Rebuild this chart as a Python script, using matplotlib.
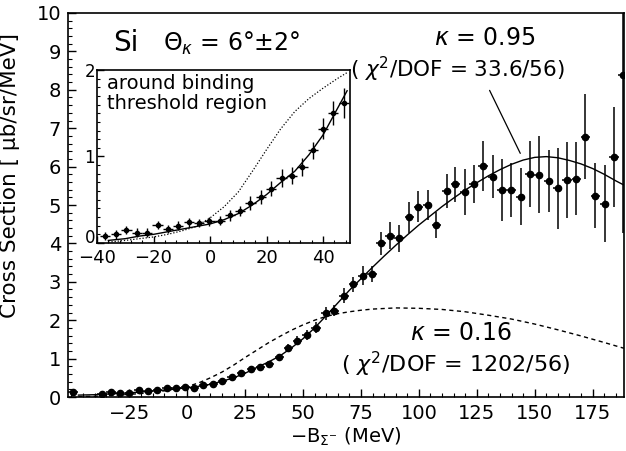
import numpy as np
import matplotlib
matplotlib.use("Agg")
import matplotlib.pyplot as plt
from matplotlib.ticker import MultipleLocator, AutoMinorLocator

plt.rcParams['font.family'] = ['DejaVu Sans']
plt.rcParams['mathtext.fontset'] = 'dejavusans'

# ---- main spectrum (Si, 4 MeV bins) ----
x_main = [-49.3, -36.8, -32.9, -29.2, -25.0, -21.0, -16.9, -12.9, -8.8, -4.9,
          -0.9, 3.0, 7.0, 11.3, 15.2, 19.3, 23.4, 27.6, 31.5, 35.5,
          39.7, 43.7, 47.5, 51.6, 55.6, 59.8, 63.5, 67.7, 71.7, 75.7,
          79.7, 83.6, 87.5, 91.4, 95.8, 99.7, 103.8, 107.6, 112.0, 115.8,
          119.8, 123.7, 127.7, 131.8, 135.9, 139.9, 143.9, 147.8, 151.8, 156.0,
          160.0, 164.0, 167.9, 171.9, 176.1, 180.2, 184.2, 188.0]
y_main = [0.12, 0.08, 0.14, 0.10, 0.11, 0.17, 0.16, 0.19, 0.23, 0.23,
          0.25, 0.24, 0.30, 0.35, 0.43, 0.52, 0.62, 0.72, 0.77, 0.85,
          1.03, 1.28, 1.47, 1.61, 1.81, 2.18, 2.25, 2.64, 2.93, 3.16,
          3.20, 4.00, 4.20, 4.13, 4.68, 4.96, 5.00, 4.48, 5.37, 5.54,
          5.33, 5.54, 6.02, 5.74, 5.39, 5.39, 5.22, 5.81, 5.79, 5.62,
          5.43, 5.65, 5.68, 6.78, 5.24, 5.03, 6.25, 8.38]
err_main = [0.04, 0.03, 0.04, 0.03, 0.03, 0.04, 0.04, 0.04, 0.04, 0.04,
            0.04, 0.04, 0.05, 0.05, 0.05, 0.06, 0.06, 0.07, 0.07, 0.07,
            0.08, 0.10, 0.12, 0.13, 0.14, 0.17, 0.15, 0.20, 0.20, 0.24,
            0.20, 0.30, 0.35, 0.35, 0.40, 0.40, 0.40, 0.35, 0.45, 0.45,
            0.60, 0.50, 0.65, 0.55, 0.80, 0.70, 0.75, 0.85, 1.00, 0.80,
            1.05, 1.00, 0.95, 1.10, 0.85, 1.00, 1.30, 4.10]

# fitted curves
fit095_x = [-47, -40, -30, -20, -10, 0, 5, 10, 15, 20, 25, 30, 35, 40, 45, 50,
            55, 60, 65, 70, 75, 80, 85, 90, 95, 100, 105, 110, 115, 120, 125,
            130, 135, 140, 145, 150, 155, 160, 165, 170, 175, 180, 185, 188.5]
fit095_y = [0.05, 0.06, 0.09, 0.13, 0.18, 0.24, 0.28, 0.33, 0.41, 0.50, 0.62,
            0.77, 0.91, 1.07, 1.28, 1.52, 1.80, 2.12, 2.45, 2.78, 3.08, 3.38,
            3.67, 3.95, 4.22, 4.48, 4.72, 4.96, 5.18, 5.39, 5.58, 5.76, 5.92,
            6.06, 6.17, 6.24, 6.26, 6.23, 6.16, 6.07, 5.95, 5.80, 5.63, 5.52]
fit016_x = [-47, -40, -30, -20, -10, 0, 5, 10, 15, 20, 25, 30, 35, 40, 45, 50,
            55, 60, 65, 70, 75, 80, 90, 100, 110, 120, 130, 140, 150, 160,
            170, 180, 188.5]
fit016_y = [0.01, 0.02, 0.05, 0.09, 0.16, 0.27, 0.37, 0.50, 0.65, 0.83, 1.03,
            1.22, 1.41, 1.58, 1.74, 1.88, 2.00, 2.10, 2.17, 2.22, 2.26, 2.29,
            2.32, 2.31, 2.28, 2.22, 2.13, 2.03, 1.90, 1.75, 1.59, 1.42, 1.27]
main_xticks = [-25, 0, 25, 50, 75, 100, 125, 150, 175]

# ---- inset: around binding threshold ----
x_in = [-37.2, -33.3, -29.6, -25.9, -22.3, -18.6, -14.9, -11.3, -7.5, -3.8,
        -0.2, 3.5, 7.0, 10.7, 14.3, 18.0, 21.5, 25.3, 29.0, 32.7,
        36.4, 40.1, 43.6, 47.4]
y_in = [0.08, 0.10, 0.15, 0.12, 0.12, 0.21, 0.16, 0.20, 0.24, 0.23,
        0.25, 0.26, 0.32, 0.37, 0.46, 0.53, 0.63, 0.75, 0.78, 0.88,
        1.07, 1.32, 1.50, 1.62]
err_in = [0.05, 0.05, 0.05, 0.05, 0.05, 0.05, 0.05, 0.05, 0.05, 0.05,
          0.05, 0.05, 0.06, 0.06, 0.08, 0.08, 0.09, 0.10, 0.10, 0.10,
          0.10, 0.12, 0.14, 0.17]
fit_in_x = [-36, -30, -25, -20, -15, -10, -5, 0, 5, 10, 15, 20, 25, 30, 35,
            40, 45, 48.5]
fit095_in = [0.03, 0.05, 0.08, 0.10, 0.13, 0.16, 0.19, 0.22, 0.27, 0.34, 0.44,
             0.56, 0.70, 0.83, 1.02, 1.25, 1.55, 1.76]
fit016_in = [0.01, 0.03, 0.05, 0.07, 0.10, 0.14, 0.19, 0.29, 0.42, 0.59, 0.83,
             1.08, 1.32, 1.52, 1.67, 1.79, 1.90, 1.97]
inset_yticks = [0, 1, 2]

fig = plt.figure(figsize=(6.26, 4.51), dpi=100)
ax = fig.add_axes([0.1086, 0.1197, 0.888, 0.8515])

ax.plot(fit095_x, fit095_y, color='black', lw=1.0)
ax.plot(fit016_x, fit016_y, color='black', lw=1.0, ls=(0, (3, 2.5)))
ax.errorbar(x_main, y_main, yerr=err_main, xerr=2.0, fmt='o', color='black',
            ms=4.5, elinewidth=1.1, capsize=0)

ax.set_xlim(-51.5, 188.5)
ax.set_ylim(0, 10)
ax.set_xticks(main_xticks)
ax.xaxis.set_minor_locator(AutoMinorLocator(5))
ax.yaxis.set_major_locator(MultipleLocator(1))
ax.yaxis.set_minor_locator(AutoMinorLocator(5))
ax.tick_params(which='both', direction='in', top=False, right=False, labelsize=14)
ax.tick_params(which='major', length=6, width=1.0, pad=5)
ax.tick_params(which='minor', length=3, width=0.8)
for s in ax.spines.values():
    s.set_linewidth(1.2)

ax.set_xlabel(r'$-\mathrm{B}_{\Sigma^{-}}$ (MeV)', fontsize=14, labelpad=2)
fig.text(0.016, 0.61, 'Cross Section [ μb/sr/MeV]', rotation=90,
         ha='center', va='center', fontsize=15.5)

ax.text(-32, 9.22, 'Si', fontsize=20, ha='left', va='center')
ax.text(19, 9.22, r'$\Theta_{\kappa}$ = 6°$\pm$2°', fontsize=17,
        ha='center', va='center')
ax.text(128.4, 9.36, r'$\kappa$ = 0.95', fontsize=17, ha='center', va='center')
ax.text(116.8, 8.52, r'( $\chi^2$/DOF = 33.6/56)', fontsize=15.5,
        ha='center', va='center')
ax.text(118.1, 1.67, r'$\kappa$ = 0.16', fontsize=17, ha='center', va='center')
ax.text(116, 0.86, r'( $\chi^2$/DOF = 1202/56)', fontsize=16,
        ha='center', va='center')
ax.annotate('', xy=(144.3, 6.28), xytext=(130, 8.05),
            arrowprops=dict(arrowstyle='-', lw=0.9, color='black'))

# inset
axi = fig.add_axes([0.155, 0.4612, 0.404, 0.3836])
axi.set_facecolor('white')
axi.plot(fit_in_x, fit095_in, color='black', lw=1.0)
axi.plot(fit_in_x, fit016_in, color='black', lw=0.9, ls=(0, (1, 1.5)))
axi.errorbar(x_in, y_in, yerr=err_in, xerr=1.8, fmt='o', color='black',
             ms=3, elinewidth=1.0, capsize=0)
axi.set_xlim(-40, 49.5)
axi.set_ylim(0, 2)
axi.xaxis.set_major_locator(MultipleLocator(20))
axi.xaxis.set_minor_locator(AutoMinorLocator(5))
axi.set_yticks(inset_yticks)
axi.set_yticklabels([str(v) for v in inset_yticks])
axi.yaxis.set_minor_locator(AutoMinorLocator(10))
axi.tick_params(which='both', direction='in', top=False, right=False, labelsize=13)
axi.tick_params(axis='x', which='major', length=5, width=1.0, pad=4)
axi.tick_params(axis='y', which='major', length=5, width=1.0, pad=1.5)
axi.tick_params(which='minor', length=2.5, width=0.8)
axi.tick_params(axis='y', labelsize=12)
axi.get_yticklabels()[0].set_va('baseline')
for s in axi.spines.values():
    s.set_linewidth(1.2)
axi.text(0.04, 0.975, 'around binding\nthreshold region', transform=axi.transAxes,
         fontsize=14, ha='left', va='top', linespacing=1.05)

fig.savefig('out.png', dpi=100)
